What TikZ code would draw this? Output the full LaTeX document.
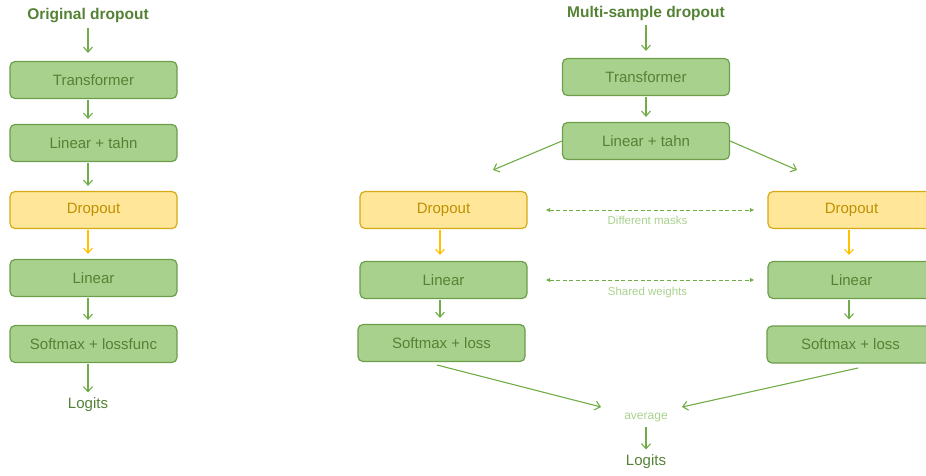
\documentclass[tikz,border=0pt]{standalone}
\usepackage{fontspec}
\setmainfont{Liberation Sans}
\usepackage{xcolor}
\usepackage{tikz}
\usetikzlibrary{
    positioning,
    arrows.meta,
    calc
}
\definecolor{boxGreen}{RGB}{169, 209, 142}
\definecolor{lineGreen}{RGB}{109, 158, 74}
\definecolor{textGreen}{RGB}{84, 130, 53}
\definecolor{arrowGreen}{RGB}{112, 173, 71}
\definecolor{boxYellow}{RGB}{255, 230, 153}
\definecolor{lineYellow}{RGB}{214, 170, 20}
\definecolor{textYellow}{RGB}{191, 144, 0}
\definecolor{arrowYellow}{RGB}{255, 192, 0}

\begin{document}
\begin{tikzpicture}[x=1pt, y=-1pt,
        block/.style={draw=lineGreen, fill=boxGreen, text=textGreen, line width=1.2pt,
            rounded corners=5pt, minimum width=167pt, minimum height=37pt,
            font=\fontsize{15}{18}\selectfont},
        dropblock/.style={block, draw=lineYellow, fill=boxYellow, text=textYellow},
        title/.style={text=textGreen, font=\fontsize{15.5}{18}\selectfont\bfseries},
        flow/.style={-{Straight Barb[length=5pt, width=9pt]}, arrowGreen, line width=1.1pt,
            shorten <=1pt, shorten >=5pt},
        dropflow/.style={flow, arrowYellow},
        between/.style={{Latex[length=4.5pt, width=4.5pt]}-{Latex[length=4.5pt, width=4.5pt]},
            arrowGreen, dash pattern=on 4pt off 2.5pt, line width=1pt},
        note/.style={text=boxGreen, font=\fontsize{11.5}{14}\selectfont}]
        \clip (0,0) rectangle (926,475);
        \useasboundingbox (0,0) rectangle (926,475);

        % Original dropout
        \node[title] (orig) at (88,16) {Original dropout};
        \node[block] (tr1) at (93.5,80) {Transformer};
        \node[block] (lt1) at (93.5,143) {Linear + tahn};
        \node[dropblock] (do1) at (93.5,210) {Dropout};
        \node[block] (li1) at (93.5,278) {Linear};
        \node[block] (sm1) at (93.5,344) {Softmax + lossfunc};
        \node[text=textGreen, font=\fontsize{15}{18}\selectfont] (lg1) at (88,405) {Logits};

        \draw[flow, shorten >=8pt] (orig) -- (orig |- tr1.north);
        \draw[flow] (tr1.south -| orig) -- (lt1.north -| orig);
        \draw[flow] (lt1.south -| orig) -- (do1.north -| orig);
        \draw[dropflow] (do1.south -| orig) -- (li1.north -| orig);
        \draw[flow] (li1.south -| orig) -- (sm1.north -| orig);
        \draw[flow, shorten >=2pt] (sm1.south -| orig) -- (lg1);

        % Multi-sample dropout
        \node[title] (multi) at (646,13) {Multi-sample dropout};
        \node[block] (tr2) at (646,77) {Transformer};
        \node[block] (lt2) at (646,141) {Linear + tahn};

        \node[dropblock] (do2) at (443.5,210) {Dropout};
        \node[block] (li2) at (443.5,280) {Linear};
        \node[block] (sm2) at (441.5,343) {Softmax + loss};

        \node[dropblock] (do3) at (851.5,210) {Dropout};
        \node[block] (li3) at (851.5,280) {Linear};
        \node[block] (sm3) at (850.5,344.5) {Softmax + loss};

        \node[note, font=\fontsize{12}{14}\selectfont] (avg) at (646,418) {average};
        \node[text=textGreen, font=\fontsize{15}{18}\selectfont] (lg2) at (646,462) {Logits};

        \coordinate (splitL) at (493,170);
        \coordinate (splitR) at (797,170);
        \coordinate (joinL) at (601,407);
        \coordinate (joinR) at (682,407);

        \draw[flow, shorten >=7pt] (multi) -- (multi |- tr2.north);
        \draw[flow] (tr2) -- (lt2);
        \draw[flow, shorten <=0pt, shorten >=0pt] (lt2.west) -- (splitL);
        \draw[flow, shorten <=0pt, shorten >=0pt] (lt2.east) -- (splitR);

        \draw[dropflow, shorten >=6pt] (do2.south -| 440,0) -- (li2.north -| 440,0);
        \draw[flow, shorten >=6pt] (li2.south -| 440,0) -- (sm2.north -| 440,0);
        \draw[dropflow, shorten >=6pt] (do3.south -| 849,0) -- (li3.north -| 849,0);
        \draw[flow, shorten >=6pt] (li3.south -| 849,0) -- (sm3.north -| 849,0);

        \draw[between, shorten <=18pt, shorten >=13pt] (do2.east) -- (do3.west)
            node[midway, below=2pt, note] {Different masks};
        \draw[between, shorten <=18pt, shorten >=13pt] (li2.east) -- (li3.west)
            node[midway, below=3pt, note] {Shared weights};

        \draw[flow, shorten <=0pt, shorten >=0pt] (437,365) -- (joinL);
        \draw[flow, shorten <=0pt, shorten >=0pt] (858,368) -- (joinR);
        \draw[flow, shorten >=2pt] (avg) -- (lg2);
    \end{tikzpicture}
\end{document}
